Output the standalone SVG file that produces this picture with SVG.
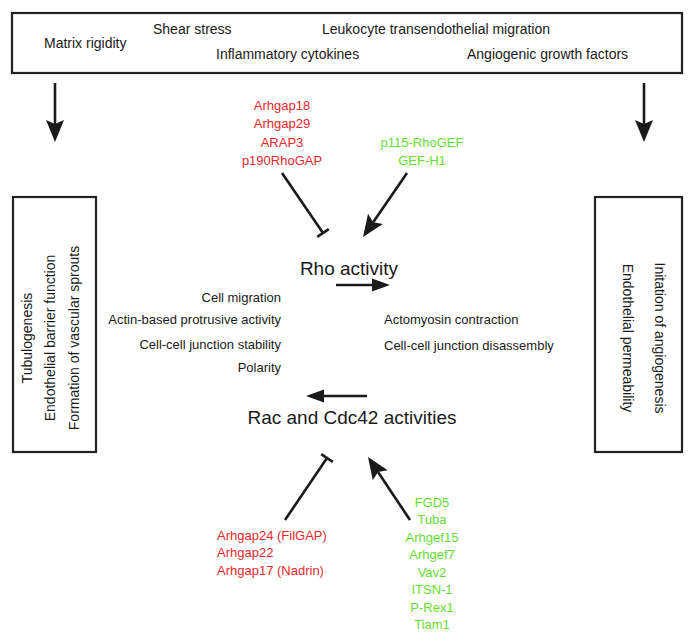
<svg xmlns="http://www.w3.org/2000/svg" width="695" height="643" viewBox="0 0 695 643">
<style>
text{font-family:"Liberation Sans",Arial,sans-serif;fill:#1a1a1a}
.box{fill:#fff;stroke:#222;stroke-width:2.2}
.t14{font-size:14px}
.t13{font-size:13px}
.big{font-size:19px}
.red{fill:#e8282c;font-size:13px;text-anchor:middle}
.grn{fill:#66dd33;font-size:13px;text-anchor:middle}
.ln{stroke:#1a1a1a;stroke-width:2.6;fill:none}
.mid{text-anchor:middle}
.end{text-anchor:end}
</style>
<defs>
<marker id="ah" markerUnits="userSpaceOnUse" viewBox="-6 -11 30 22" refX="0" refY="0" markerWidth="30" markerHeight="22" orient="auto">
<path d="M-4,-9 L18,0 L-4,9 L0,0 Z" fill="#1a1a1a"/>
</marker>
<marker id="am" markerUnits="userSpaceOnUse" viewBox="-4 -8 24 16" refX="0" refY="0" markerWidth="24" markerHeight="16" orient="auto">
<path d="M-1,-6.5 L17,0 L-1,6.5 Z" fill="#1a1a1a"/>
</marker>
</defs>
<rect width="695" height="643" fill="#fff"/>
<g id="stimuli">
<rect class="box" x="12" y="13" width="670" height="60"/>
<text class="t14" x="44" y="48">Matrix rigidity</text>
<text class="t14" x="153" y="34">Shear stress</text>
<text class="t14" x="322" y="34">Leukocyte transendothelial migration</text>
<text class="t14" x="216" y="59">Inflammatory cytokines</text>
<text class="t14" x="467" y="59">Angiogenic growth factors</text>
</g>
<g id="rac-outcomes">
<rect class="box" x="13" y="197" width="83" height="255"/>
<text class="t14 mid" transform="translate(32,338) rotate(-90)">Tubulogenesis</text>
<text class="t14 mid" transform="translate(55,338) rotate(-90)">Endothelial barrier function</text>
<text class="t14 mid" transform="translate(79,338) rotate(-90)">Formation of vascular sprouts</text>
</g>
<g id="rho-outcomes">
<rect class="box" x="595" y="197" width="87" height="255"/>
<text class="t14 mid" transform="translate(655,338) rotate(90)">Initation of angiogenesis</text>
<text class="t14 mid" transform="translate(623,338) rotate(90)">Endothelial permeability</text>
</g>
<g id="rho-gaps">
<text class="red" x="282" y="110">Arhgap18</text>
<text class="red" x="282" y="128">Arhgap29</text>
<text class="red" x="282" y="147">ARAP3</text>
<text class="red" x="282" y="165">p190RhoGAP</text>
</g>
<g id="rho-gefs">
<text class="grn" x="422" y="147">p115-RhoGEF</text>
<text class="grn" x="422" y="165">GEF-H1</text>
</g>
<g id="rho">
<text class="big mid" x="349" y="275">Rho activity</text>
</g>
<g id="rac-functions">
<text class="t13 end" x="281" y="302">Cell migration</text>
<text class="t13 end" x="281" y="324">Actin-based protrusive activity</text>
<text class="t13 end" x="281" y="349">Cell-cell junction stability</text>
<text class="t13 end" x="281" y="372">Polarity</text>
</g>
<g id="rho-functions">
<text class="t13" x="384" y="324">Actomyosin contraction</text>
<text class="t13" x="384" y="350">Cell-cell junction disassembly</text>
</g>
<g id="rac">
<text class="big mid" x="352" y="424">Rac and Cdc42 activities</text>
</g>
<g id="rac-gaps">
<text class="red" x="217" y="540" style="text-anchor:start">Arhgap24 (FilGAP)</text>
<text class="red" x="217" y="557" style="text-anchor:start">Arhgap22</text>
<text class="red" x="217" y="575" style="text-anchor:start">Arhgap17 (Nadrin)</text>
</g>
<g id="rac-gefs">
<text class="grn" x="432" y="507">FGD5</text>
<text class="grn" x="432" y="524">Tuba</text>
<text class="grn" x="432" y="542">Arhgef15</text>
<text class="grn" x="432" y="559">Arhgef7</text>
<text class="grn" x="432" y="577">Vav2</text>
<text class="grn" x="432" y="594">ITSN-1</text>
<text class="grn" x="432" y="612">P-Rex1</text>
<text class="grn" x="432" y="629">Tiam1</text>
</g>
<g id="connectors">
<line class="ln" x1="55" y1="83" x2="55" y2="124" marker-end="url(#ah)"/>
<line class="ln" x1="644" y1="83" x2="644" y2="124" marker-end="url(#ah)"/>
<line class="ln" x1="282" y1="173" x2="323" y2="233"/>
<line class="ln" x1="317.2" y1="236.9" x2="328.8" y2="229.1"/>
<line class="ln" x1="407" y1="173" x2="373.2" y2="222.2" marker-end="url(#ah)"/>
<line class="ln" x1="336" y1="285" x2="373" y2="285" marker-end="url(#am)"/>
<line class="ln" x1="367" y1="396" x2="323" y2="396" marker-end="url(#am)"/>
<line class="ln" x1="285" y1="520" x2="327" y2="458"/>
<line class="ln" x1="321.2" y1="454.1" x2="332.8" y2="461.9"/>
<line class="ln" x1="410" y1="520" x2="378" y2="472" marker-end="url(#ah)"/>
</g>
</svg>
